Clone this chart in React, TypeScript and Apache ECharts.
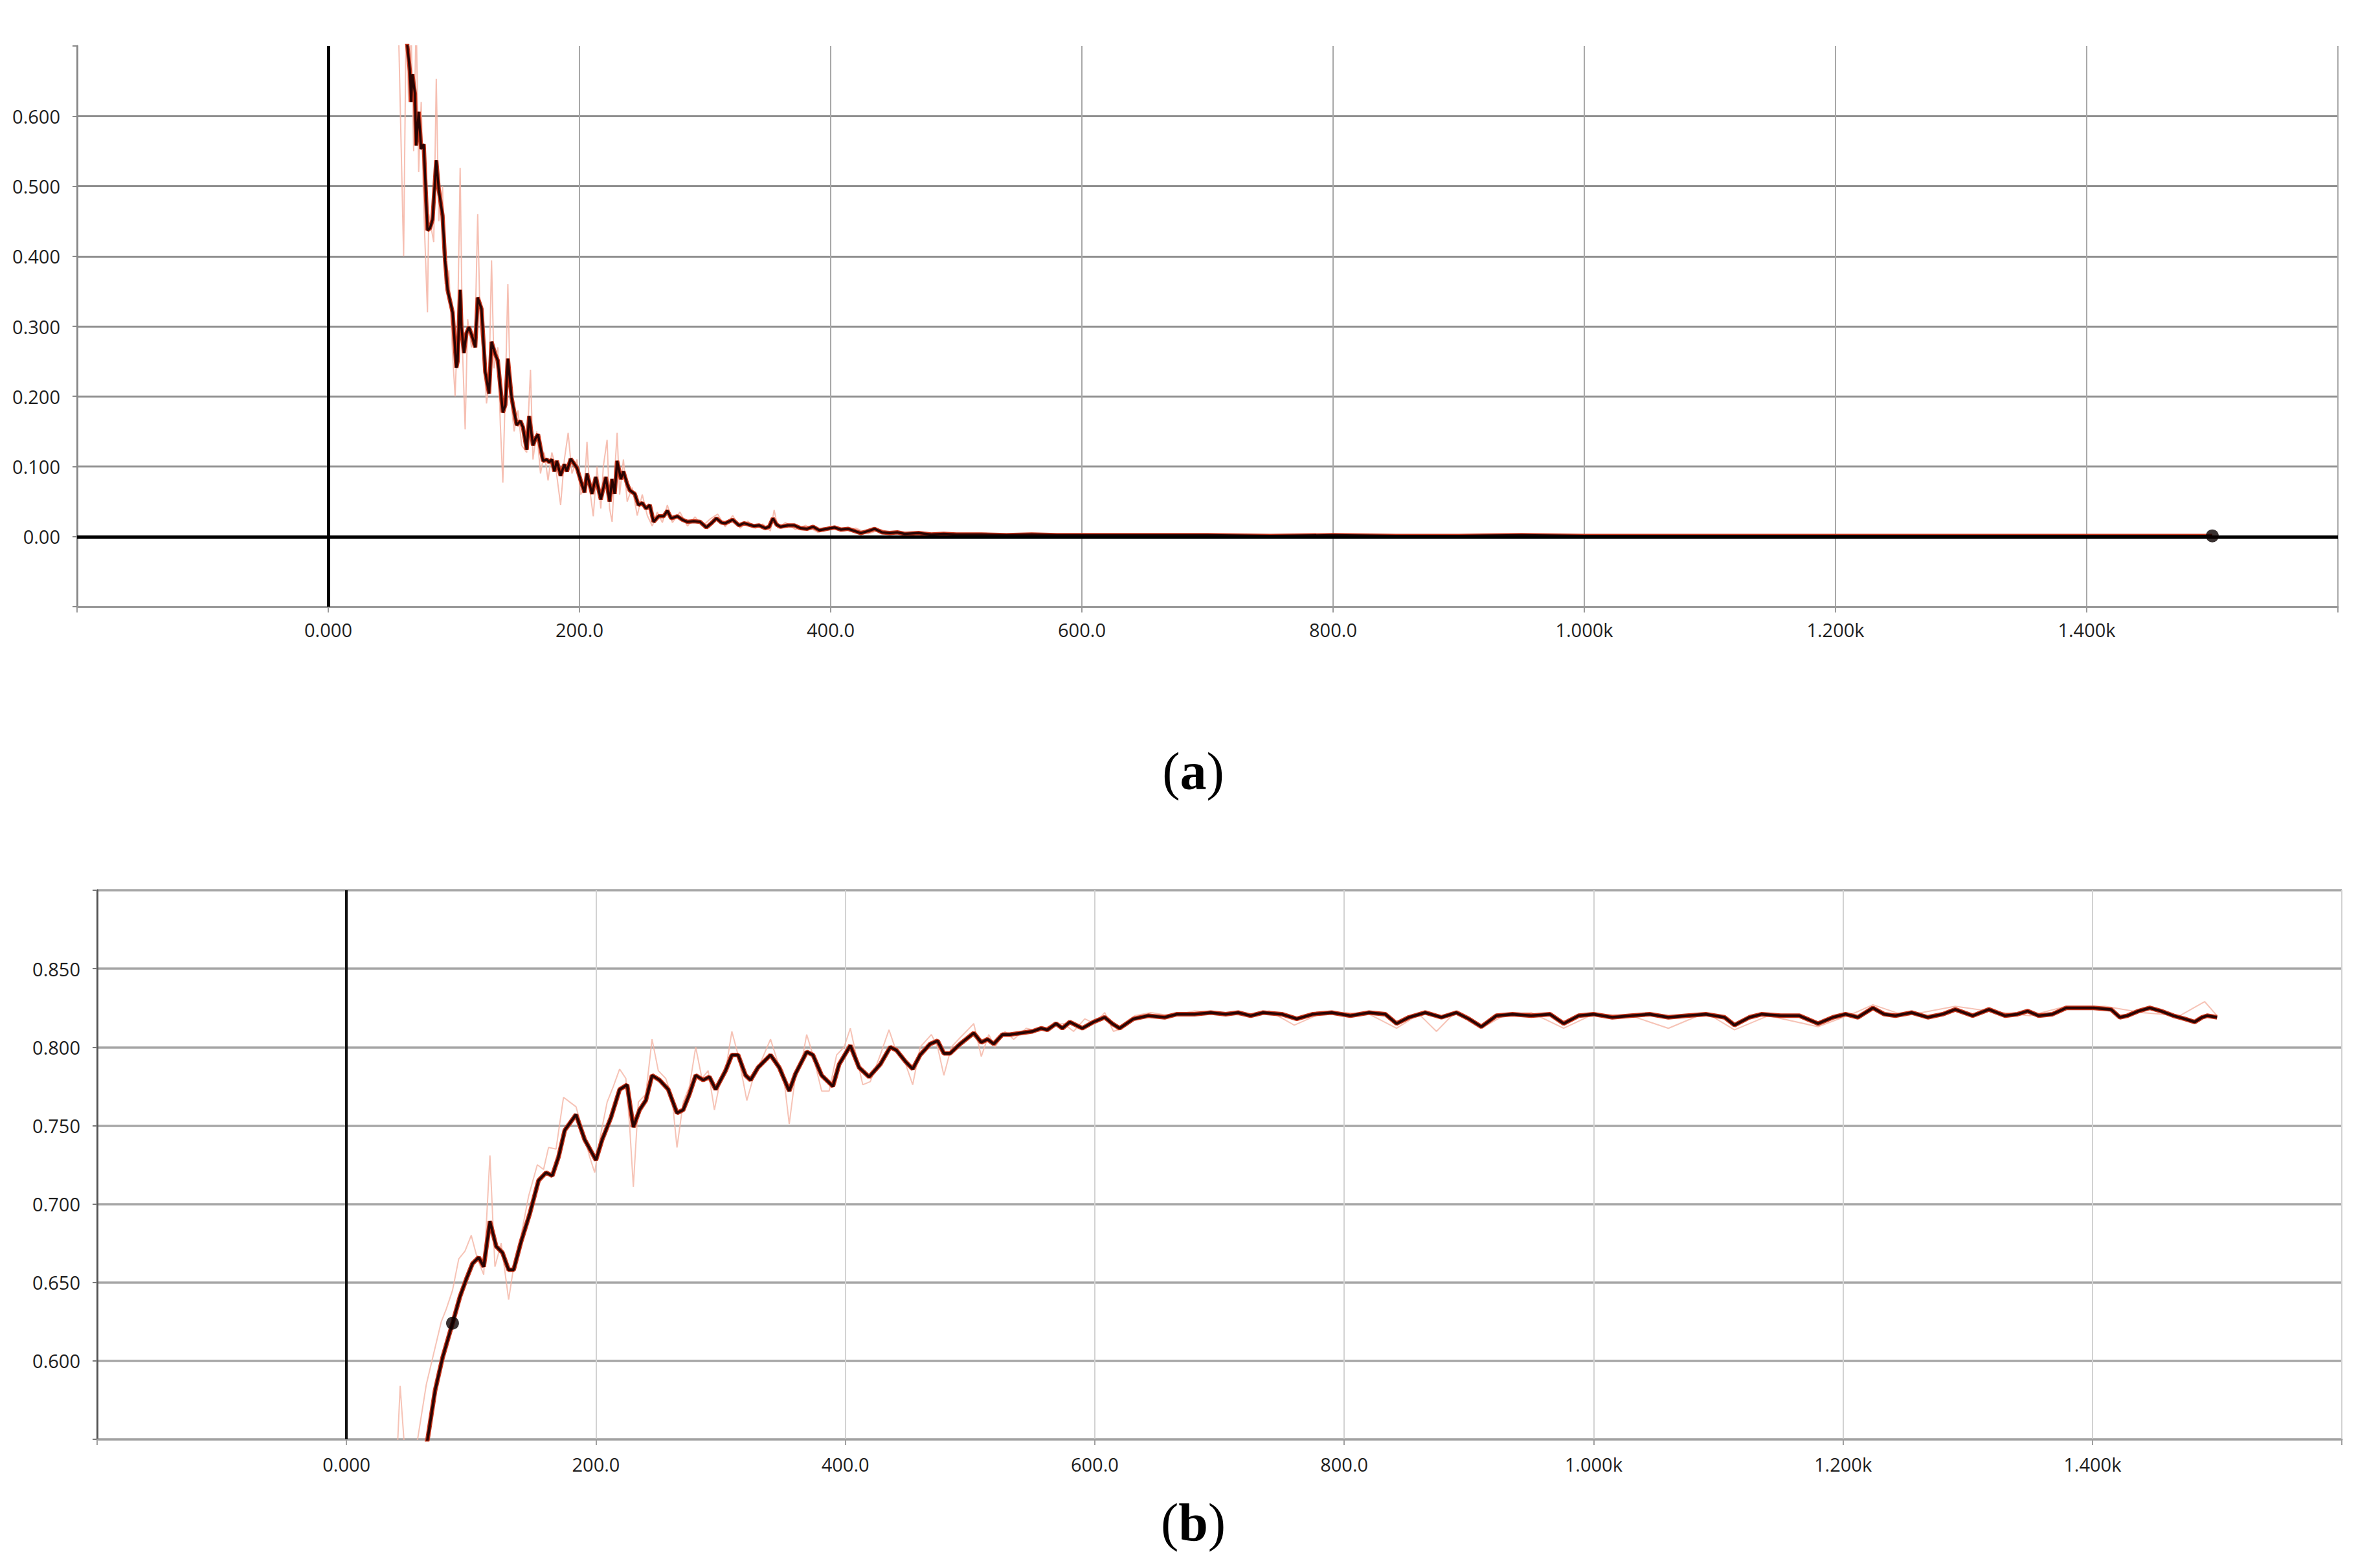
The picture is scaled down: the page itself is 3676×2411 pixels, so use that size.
import React, { useEffect, useRef } from "react";
import * as echarts from "echarts";

// ---------- tick labels ----------
const xTickValues = [-200, 0, 200, 400, 600, 800, 1000, 1200, 1400, 1600];
const xTickLabels = ["", "0.000", "200.0", "400.0", "600.0", "800.0", "1.000k", "1.200k", "1.400k", ""];
const lossTickValues = [-0.1, 0, 0.1, 0.2, 0.3, 0.4, 0.5, 0.6, 0.7];
const lossTickLabels = ["", "0.00", "0.100", "0.200", "0.300", "0.400", "0.500", "0.600", ""];
const accTickValues = [0.55, 0.6, 0.65, 0.7, 0.75, 0.8, 0.85, 0.9];
const accTickLabels = ["", "0.600", "0.650", "0.700", "0.750", "0.800", "0.850", ""];

// ---------- (a) loss ----------
const lossSteps = [
  60, 63, 65, 66, 67, 69, 70, 72, 74, 76, 79, 81, 83, 86, 88, 91, 93, 95, 99, 102,
  103, 105, 106, 108, 110, 112, 115, 117, 119, 122, 125, 128, 130, 133, 135, 139, 141, 143, 146, 150,
  153, 155, 158, 160, 163, 165, 167, 171, 174, 176, 178, 180, 182, 185, 188, 190, 193, 198, 201, 204,
  206, 210, 213, 217, 221, 224, 226, 228, 230, 233, 235, 238, 240, 244, 247, 250, 253, 256, 259, 263,
  267, 270, 273, 278, 282, 286, 291, 296, 301, 305, 309, 313, 316, 322, 327, 331, 335, 339, 343, 348,
  351, 354, 357, 360, 366, 371, 376, 381, 386, 391, 397, 403, 408, 414, 419, 424, 430, 435, 441, 447,
  453, 459, 470, 480, 490, 500, 520, 540, 560, 580, 600, 650, 700, 750, 800, 850, 900, 950, 1000, 1050,
  1100, 1150, 1200, 1250, 1300, 1350, 1400, 1450, 1500,
];
const lossSmoothed = [
  0.76, 0.7, 0.664, 0.62, 0.66, 0.632, 0.558, 0.606, 0.553, 0.56, 0.437, 0.44, 0.452, 0.537, 0.495, 0.458, 0.394, 0.352, 0.32, 0.241,
  0.25, 0.352, 0.3, 0.262, 0.29, 0.299, 0.283, 0.27, 0.341, 0.325, 0.235, 0.204, 0.278, 0.26, 0.251, 0.177, 0.188, 0.254, 0.198, 0.159,
  0.165, 0.156, 0.124, 0.172, 0.13, 0.14, 0.146, 0.108, 0.11, 0.106, 0.11, 0.093, 0.108, 0.087, 0.103, 0.093, 0.111, 0.098, 0.08, 0.063,
  0.09, 0.061, 0.085, 0.053, 0.085, 0.05, 0.082, 0.061, 0.108, 0.082, 0.093, 0.075, 0.066, 0.061, 0.045, 0.048, 0.04, 0.045, 0.021, 0.029,
  0.029, 0.037, 0.026, 0.029, 0.024, 0.021, 0.022, 0.021, 0.013, 0.019, 0.026, 0.02, 0.019, 0.024, 0.016, 0.019, 0.017, 0.015, 0.016, 0.012,
  0.014, 0.026, 0.017, 0.014, 0.016, 0.016, 0.012, 0.011, 0.014, 0.009, 0.011, 0.013, 0.01, 0.011, 0.008, 0.005, 0.008, 0.011, 0.006, 0.005,
  0.006, 0.004, 0.005, 0.003, 0.004, 0.003, 0.003, 0.002, 0.003, 0.002, 0.002, 0.002, 0.002, 0.001, 0.002, 0.001, 0.001, 0.002, 0.001, 0.001,
  0.001, 0.001, 0.001, 0.001, 0.001, 0.001, 0.001, 0.001, 0.001,
];
const lossRawSteps = [
  56, 60, 62, 64, 66, 68, 70, 72, 74, 76, 79, 80, 84, 86, 88, 91, 93, 96, 99, 101,
  103, 105, 107, 109, 111, 114, 117, 119, 121, 124, 126, 128, 130, 132, 135, 137, 139, 141, 143, 145,
  148, 151, 154, 158, 161, 163, 166, 169, 172, 175, 178, 181, 185, 188, 191, 194, 198, 201, 204, 206,
  208, 211, 214, 217, 219, 222, 224, 226, 228, 230, 232, 235, 238, 242, 246, 250, 254, 258, 262, 266,
  270, 274, 280, 286, 292, 298, 304, 310, 316, 322, 328, 334, 340, 346, 352, 355, 358, 364, 372, 380,
  390, 400, 410, 420, 430, 440, 450, 460, 480, 500, 550, 600, 700, 800, 900, 1000, 1100, 1200, 1300, 1400, 1500,
];
const lossRaw = [
  0.72, 0.4, 0.74, 0.62, 0.72, 0.55, 0.74, 0.52, 0.62, 0.47, 0.32, 0.46, 0.42, 0.653, 0.45, 0.5, 0.36, 0.38, 0.26, 0.2,
  0.3, 0.526, 0.26, 0.153, 0.31, 0.27, 0.3, 0.46, 0.3, 0.25, 0.19, 0.22, 0.394, 0.24, 0.27, 0.16, 0.077, 0.21, 0.36, 0.2,
  0.15, 0.18, 0.13, 0.12, 0.238, 0.11, 0.15, 0.09, 0.12, 0.08, 0.12, 0.1, 0.045, 0.11, 0.148, 0.09, 0.11, 0.06, 0.07, 0.135,
  0.07, 0.029, 0.1, 0.04, 0.1, 0.138, 0.04, 0.021, 0.09, 0.148, 0.06, 0.11, 0.05, 0.07, 0.03, 0.06, 0.03, 0.015, 0.035, 0.02,
  0.045, 0.02, 0.035, 0.015, 0.028, 0.015, 0.025, 0.032, 0.014, 0.03, 0.012, 0.022, 0.012, 0.018, 0.008, 0.038, 0.012, 0.02, 0.01, 0.016,
  0.006, 0.015, 0.008, 0.012, 0.004, 0.01, 0.004, 0.006, 0.002, 0.004, 0.002, 0.002, 0.001, 0.002, 0.001, 0.001, 0.001, 0.001, 0.001, 0.001, 0.001,
];
const lossMarkerStep = 1500;

// ---------- (b) accuracy ----------
const accSteps = [
  62, 65, 71, 77, 85, 91, 96, 101, 106, 110, 115, 120, 125, 130, 134, 140, 147, 154, 160, 165,
  170, 175, 184, 191, 200, 205, 212, 219, 225, 230, 235, 240, 245, 251, 258, 265, 270, 275, 280, 286,
  291, 296, 304, 309, 314, 320, 324, 330, 340, 347, 355, 360, 369, 374, 381, 390, 395, 404, 411, 419,
  428, 436, 441, 448, 454, 460, 468, 474, 479, 484, 492, 503, 509, 514, 519, 526, 532, 541, 550, 557,
  562, 569, 574, 580, 590, 599, 608, 614, 620, 631, 643, 656, 666, 680, 693, 705, 715, 725, 735, 750,
  762, 775, 790, 805, 820, 833, 842, 852, 865, 878, 890, 900, 910, 922, 935, 950, 965, 976, 988, 1000,
  1015, 1030, 1045, 1060, 1075, 1090, 1105, 1113, 1125, 1135, 1150, 1165, 1180, 1192, 1202, 1212, 1224, 1233, 1242, 1255,
  1268, 1280, 1290, 1304, 1317, 1330, 1340, 1348, 1357, 1368, 1379, 1390, 1401, 1415, 1422, 1428, 1437, 1446, 1455, 1465,
  1474, 1482, 1488, 1492, 1500,
];
const accSmoothed = [
  0.54, 0.55, 0.581, 0.602, 0.624, 0.641, 0.652, 0.662, 0.666, 0.66, 0.689, 0.673, 0.669, 0.658, 0.658, 0.676, 0.694, 0.715, 0.72, 0.718,
  0.73, 0.747, 0.757, 0.741, 0.728, 0.741, 0.755, 0.773, 0.776, 0.749, 0.76, 0.766, 0.782, 0.779, 0.773, 0.758, 0.76, 0.77, 0.782, 0.779,
  0.781, 0.773, 0.785, 0.795, 0.795, 0.782, 0.779, 0.787, 0.795, 0.787, 0.772, 0.783, 0.797, 0.795, 0.782, 0.775, 0.789, 0.801, 0.787, 0.781,
  0.789, 0.8, 0.798, 0.791, 0.786, 0.795, 0.802, 0.804, 0.796, 0.796, 0.802, 0.809, 0.803, 0.805, 0.802, 0.808, 0.808, 0.809, 0.81, 0.812,
  0.811, 0.815, 0.812, 0.816, 0.812, 0.816, 0.819, 0.815, 0.812, 0.818, 0.82, 0.819, 0.821, 0.821, 0.822, 0.821, 0.822, 0.82, 0.822, 0.821,
  0.818, 0.821, 0.822, 0.82, 0.822, 0.821, 0.815, 0.819, 0.822, 0.819, 0.822, 0.818, 0.813, 0.82, 0.821, 0.82, 0.821, 0.815, 0.82, 0.821,
  0.819, 0.82, 0.821, 0.819, 0.82, 0.821, 0.819, 0.814, 0.819, 0.821, 0.82, 0.82, 0.815, 0.819, 0.821, 0.819, 0.825, 0.821, 0.82, 0.822,
  0.819, 0.821, 0.824, 0.82, 0.824, 0.82, 0.821, 0.823, 0.82, 0.821, 0.825, 0.825, 0.825, 0.824, 0.819, 0.82, 0.823, 0.825, 0.823, 0.82,
  0.818, 0.816, 0.819, 0.82, 0.819,
];
const accRawSteps = [
  40, 43, 46, 48, 57, 64, 70, 76, 80, 85, 90, 95, 100, 105, 110, 115, 119, 124, 130, 135,
  140, 146, 153, 158, 162, 168, 174, 179, 184, 190, 195, 199, 204, 209, 214, 219, 224, 227, 230, 234,
  240, 245, 250, 256, 261, 265, 270, 275, 280, 285, 290, 295, 300, 305, 309, 314, 321, 326, 333, 340,
  346, 350, 355, 360, 366, 369, 374, 381, 387, 393, 399, 404, 410, 414, 420, 428, 435, 441, 448, 454,
  460, 469, 474, 479, 485, 492, 497, 503, 509, 515, 520, 528, 535, 545, 555, 565, 575, 583, 592, 600,
  608, 615, 622, 632, 645, 660, 680, 700, 720, 740, 760, 780, 800, 820, 842, 860, 874, 890, 910, 930,
  950, 976, 1000, 1030, 1060, 1090, 1113, 1140, 1180, 1210, 1224, 1250, 1290, 1317, 1350, 1379, 1410, 1440, 1470, 1490, 1500,
];
const accRaw = [
  0.53, 0.584, 0.55, 0.53, 0.55, 0.585, 0.605, 0.625, 0.633, 0.645, 0.665, 0.67, 0.68, 0.665, 0.655, 0.731, 0.66, 0.675, 0.639, 0.665,
  0.68, 0.705, 0.725, 0.722, 0.736, 0.735, 0.768, 0.765, 0.762, 0.745, 0.73, 0.72, 0.745, 0.765, 0.775, 0.786, 0.78, 0.75, 0.711, 0.765,
  0.77, 0.805, 0.785, 0.78, 0.768, 0.736, 0.765, 0.775, 0.8, 0.78, 0.785, 0.76, 0.78, 0.79, 0.81, 0.795, 0.766, 0.78, 0.792, 0.805,
  0.79, 0.785, 0.751, 0.782, 0.795, 0.808, 0.795, 0.772, 0.772, 0.795, 0.8, 0.812, 0.79, 0.776, 0.778, 0.795, 0.811, 0.797, 0.79, 0.776,
  0.8, 0.808, 0.8, 0.782, 0.8, 0.806, 0.81, 0.815, 0.794, 0.808, 0.8, 0.81, 0.805, 0.812, 0.81, 0.814, 0.815, 0.81, 0.818, 0.815,
  0.822, 0.81, 0.812, 0.82, 0.822, 0.82, 0.823, 0.822, 0.82, 0.823, 0.814, 0.821, 0.822, 0.821, 0.812, 0.821, 0.81, 0.823, 0.812, 0.821,
  0.822, 0.812, 0.821, 0.82, 0.812, 0.822, 0.811, 0.82, 0.813, 0.822, 0.827, 0.82, 0.826, 0.823, 0.82, 0.826, 0.826, 0.822, 0.82, 0.829, 0.82,
];
const accMarkerStep = 85;

const pairs = (xs: number[], ys: number[]) => xs.map((x, i) => [x, ys[i]]);
const lookup = (vals: number[], labels: string[]) => (v: number) => {
  const i = vals.findIndex((t) => Math.abs(t - v) < 1e-6);
  return i >= 0 ? labels[i] : "";
};

const LABEL_FONT = "'Open Sans', 'Noto Sans', sans-serif";
const RAW_COLOR = "#f4b4a4";
const HALO_COLOR = "#c8361c";
const CORE_COLOR = "#2a0503";
const CAPTION_FONT = "'Liberation Serif', serif";

export default function App() {
  const ref = useRef<HTMLDivElement>(null);

  useEffect(() => {
    if (!ref.current) return;
    const chart = echarts.init(ref.current, null, { renderer: "svg" });

    const lossLine = pairs(lossSteps, lossSmoothed);
    const accLine = pairs(accSteps, accSmoothed);
    const lossMarker = lossLine.filter((p) => p[0] === lossMarkerStep);
    const accMarker = accLine.filter((p) => p[0] === accMarkerStep);

    const xAxisBase = (gridIndex: number, axisColor: string, splitColor: string, margin: number) => ({
      type: "value",
      gridIndex,
      min: -200,
      max: 1600,
      interval: 200,
      axisLine: { show: true, onZero: false, lineStyle: { color: axisColor, width: 3 } },
      axisTick: { show: true, length: 9, lineStyle: { color: axisColor, width: 2 } },
      axisLabel: {
        formatter: lookup(xTickValues, xTickLabels),
        fontSize: 29,
        color: "#1e1e1e",
        fontFamily: LABEL_FONT,
        margin,
        showMinLabel: true,
        showMaxLabel: true,
      },
      splitLine: { show: true, lineStyle: { color: splitColor, width: 2 } },
    });

    const caption = (letter: string, y: number) => ({
      type: "text",
      x: 1843,
      y,
      style: {
        text: "{p|(}{b|" + letter + "}{p|)}",
        align: "center",
        verticalAlign: "middle",
        rich: {
          p: { fontFamily: CAPTION_FONT, fontSize: 82, fontWeight: "normal", fill: "#000" },
          b: { fontFamily: CAPTION_FONT, fontSize: 82, fontWeight: "bold", fill: "#000" },
        },
      },
    });

    chart.setOption({
      animation: false,
      backgroundColor: "#ffffff",
      grid: [
        { left: 119, top: 71, width: 3492, height: 866 },
        { left: 150, top: 1375, width: 3467, height: 848 },
      ],
      xAxis: [xAxisBase(0, "#9a9a9a", "#a8a8a8", 21), xAxisBase(1, "#a0a0a0", "#d2d2d2", 24)],
      yAxis: [
        {
          type: "value",
          gridIndex: 0,
          min: -0.1,
          max: 0.7,
          interval: 0.1,
          axisLine: { show: true, onZero: false, lineStyle: { color: "#8a8a8a", width: 3 } },
          axisTick: { show: true, length: 7, lineStyle: { color: "#8a8a8a", width: 2 } },
          axisLabel: {
            formatter: lookup(lossTickValues, lossTickLabels),
            fontSize: 29,
            color: "#1e1e1e",
            fontFamily: LABEL_FONT,
            margin: 26,
          },
          splitLine: { show: true, showMaxLine: false, lineStyle: { color: "#8e8e8e", width: 3 } },
        },
        {
          type: "value",
          gridIndex: 1,
          min: 0.55,
          max: 0.9,
          interval: 0.05,
          axisLine: { show: true, onZero: false, lineStyle: { color: "#555555", width: 3 } },
          axisTick: { show: true, length: 7, lineStyle: { color: "#777777", width: 2 } },
          axisLabel: {
            formatter: lookup(accTickValues, accTickLabels),
            fontSize: 29,
            color: "#1e1e1e",
            fontFamily: LABEL_FONT,
            margin: 26,
          },
          splitLine: { show: true, lineStyle: { color: "#a6a6a6", width: 3.5 } },
        },
      ],
      series: [
        {
          name: "loss raw",
          type: "line",
          xAxisIndex: 0,
          yAxisIndex: 0,
          data: pairs(lossRawSteps, lossRaw),
          showSymbol: false,
          lineStyle: { color: RAW_COLOR, width: 2, opacity: 0.85 },
          z: 2,
          markLine: {
            silent: true,
            symbol: ["none", "none"],
            label: { show: false },
            lineStyle: { color: "#000000", width: 5, type: "solid" },
            data: [{ xAxis: 0 }, { yAxis: 0 }],
          },
        },
        {
          name: "loss halo",
          type: "line",
          xAxisIndex: 0,
          yAxisIndex: 0,
          data: lossLine,
          showSymbol: false,
          lineStyle: { color: HALO_COLOR, width: 6.5 },
          z: 3,
        },
        {
          name: "loss",
          type: "line",
          xAxisIndex: 0,
          yAxisIndex: 0,
          data: lossLine,
          showSymbol: false,
          lineStyle: { color: CORE_COLOR, width: 3.5 },
          z: 4,
        },
        {
          name: "loss marker",
          type: "scatter",
          xAxisIndex: 0,
          yAxisIndex: 0,
          data: lossMarker,
          symbolSize: 20,
          itemStyle: { color: "#0a0000" },
          z: 5,
        },
        {
          name: "acc raw",
          type: "line",
          xAxisIndex: 1,
          yAxisIndex: 1,
          data: pairs(accRawSteps, accRaw),
          showSymbol: false,
          lineStyle: { color: RAW_COLOR, width: 2, opacity: 0.8 },
          z: 2,
          markLine: {
            silent: true,
            symbol: ["none", "none"],
            label: { show: false },
            lineStyle: { color: "#111111", width: 4, type: "solid" },
            data: [{ xAxis: 0 }],
          },
        },
        {
          name: "acc halo",
          type: "line",
          xAxisIndex: 1,
          yAxisIndex: 1,
          data: accLine,
          showSymbol: false,
          lineStyle: { color: HALO_COLOR, width: 7 },
          z: 3,
        },
        {
          name: "acc",
          type: "line",
          xAxisIndex: 1,
          yAxisIndex: 1,
          data: accLine,
          showSymbol: false,
          lineStyle: { color: CORE_COLOR, width: 4 },
          z: 4,
        },
        {
          name: "acc marker",
          type: "scatter",
          xAxisIndex: 1,
          yAxisIndex: 1,
          data: accMarker,
          symbolSize: 20,
          itemStyle: { color: "#0a0000" },
          z: 5,
        },
      ],
      graphic: [caption("a", 1191), caption("b", 2351)],
    });

    return () => chart.dispose();
  }, []);

  return (
    <div
      ref={ref}
      style={{ position: "absolute", left: 0, top: 0, width: 3676, height: 2411, background: "#fff" }}
    />
  );
}
